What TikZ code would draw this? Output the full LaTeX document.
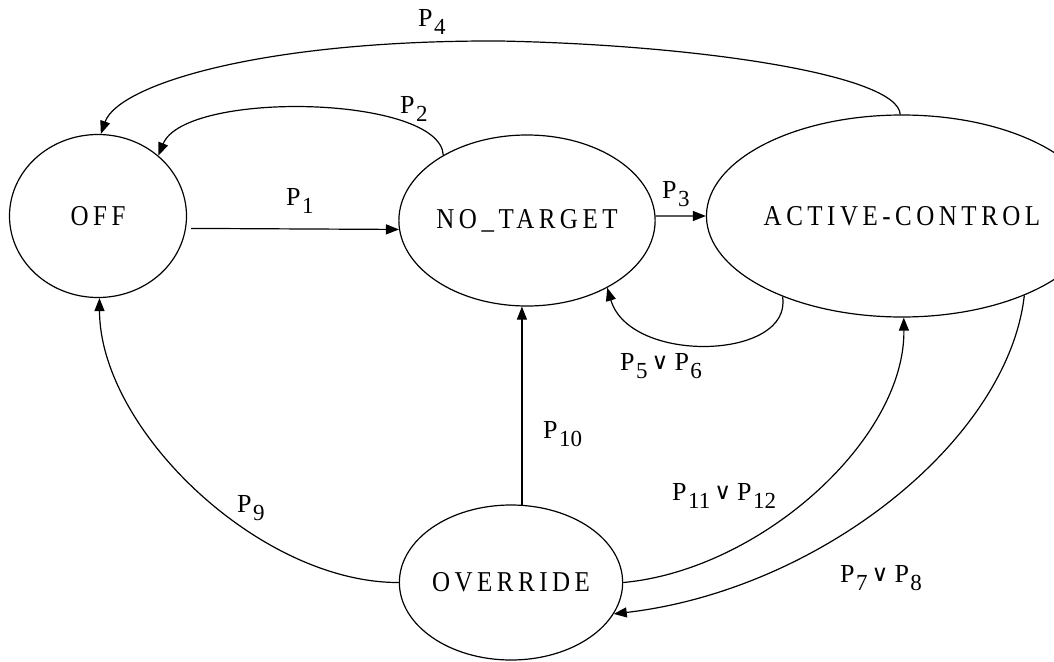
\documentclass[tikz,border=0pt]{standalone}
\usepackage{fontspec}
\setmainfont{Liberation Serif}
\newfontfamily\statefont[LetterSpace=18]{Liberation Serif}
\newfontfamily\orfont{DejaVu Sans}
\usetikzlibrary{shapes.geometric,arrows.meta}

% transition labels: P with a lowered index, and the "or" sign
\newcommand{\idxfont}{\fontsize{23}{23}\selectfont}
\newcommand{\Prop}[1]{P\kern1.5pt\raisebox{-8pt}{\idxfont #1}}
\newcommand{\Or}{\kern4pt\raisebox{1pt}{\orfont\fontsize{23}{23}\selectfont ∨}\kern6pt}
% state names, set slightly tall
\newcommand{\stname}[1]{\scalebox{1}[1.15]{#1}}

\tikzset{
  state/.style={draw, ellipse, line width=1.2pt, inner sep=0pt,
    font=\statefont\fontsize{25}{25}\selectfont},
  arr/.style={line width=1.2pt, -{Triangle[length=13pt,width=10pt]}},
  lbl/.style={anchor=base west, inner sep=0pt, font=\fontsize{26}{26}\selectfont},
}

\begin{document}
\begin{tikzpicture}[x=1pt,y=-1pt]
\useasboundingbox (0,0) rectangle (1054,661);

% states
\node[state, minimum width=177pt, minimum height=163pt] (off) at (98,216) {\stname{OFF}};
\node[state, minimum width=219pt, minimum height=171pt] (nt) at (527,220.5) {\stname{NO\_TARGET}};
\node[state, minimum width=301pt, minimum height=202pt] (ac) at (902,216) {\stname{ACTIVE-CONTROL}};
\node[state, minimum width=209pt, minimum height=155pt] (ov) at (511,582.5) {\stname{OVERRIDE}};

% transitions
\draw[arr, shorten <=5pt] (off.-8) -- (nt.184);
\draw[arr] (nt.142) .. controls (440,95) and (185,90) .. (off.45);
\draw[arr] (nt.2.4) -- (ac.180);
\draw[arr] (ac.91) .. controls (898,75) and (700,45) .. (500,41)
               .. controls (260,40) and (118,85) .. (off.88);
\draw[arr] (ac.214) .. controls (793,360) and (630,365) .. (nt.-40);
\draw[arr] (ov.82) -- (ov.82 |- nt.south);
\draw[arr] (ov.180) .. controls (260,583) and (100,430) .. (off.-89);
\draw[arr] (ov.0) .. controls (760,570) and (905,440) .. (ac.-89);
\draw[arr] (ac.-33) .. controls (1008,440) and (820,590) .. (ov.-17);

% labels
\node[lbl] (l1) at (286,205) {\Prop{1}};
\node[lbl] (l2) at (400,113) {\Prop{2}};
\node[lbl] (l3) at (662,198) {\Prop{3}};
\node[lbl] (l4) at (418,27) {\Prop{4}};
\node[lbl] (l56) at (620,370) {\Prop{5}\Or\Prop{6}};
\node[lbl] (l10) at (543,438) {\Prop{10}};
\node[lbl] (l9) at (237,512) {\Prop{9}};
\node[lbl] (l1112) at (672,500) {\Prop{11}\Or\Prop{12}};
\node[lbl] (l78) at (840,582) {\Prop{7}\Or\Prop{8}};
\end{tikzpicture}
\end{document}
